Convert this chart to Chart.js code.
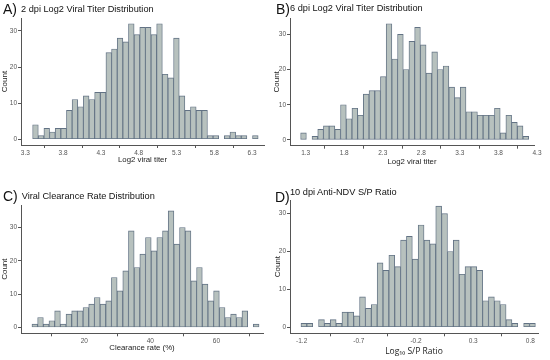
<!DOCTYPE html>
<html>
<head>
<meta charset="utf-8">
<script src="https://cdn.jsdelivr.net/npm/chart.js@4"></script>
<style>
body{margin:0;background:#fff;}
#wrap{position:relative;width:550px;height:360px;overflow:hidden;font-family:"Liberation Sans",Arial,sans-serif;}
canvas{position:absolute;}
.lab{position:absolute;font-size:14px;line-height:1;color:#111;}
.ttl{position:absolute;font-size:9.2px;line-height:1;color:#111;white-space:nowrap;}
</style>
</head>
<body>
<div id="wrap">
  <canvas id="cA" width="275" height="180" style="left:0;top:0"></canvas>
  <canvas id="cB" width="280" height="180" style="left:270px;top:0"></canvas>
  <canvas id="cC" width="275" height="180" style="left:0;top:180px"></canvas>
  <canvas id="cD" width="280" height="180" style="left:270px;top:180px"></canvas>
  <div class="lab" style="left:3px;top:2px">A)</div>
  <div class="ttl" style="left:21px;top:4.5px">2 dpi Log2 Viral Titer Distribution</div>
  <div class="lab" style="left:276px;top:1.5px">B)</div>
  <div class="ttl" style="left:290px;top:4px">6 dpi Log2 Viral Titer Distribution</div>
  <div class="lab" style="left:3px;top:189px">C)</div>
  <div class="ttl" style="left:21.7px;top:191.5px">Viral Clearance Rate Distribution</div>
  <div class="lab" style="left:275px;top:190px">D)</div>
  <div class="ttl" style="left:290px;top:187.5px">10 dpi Anti-NDV S/P Ratio</div>
</div>
<script>
// counts per bin (40 bins per panel)
const countsA = [4,1,3,2,3,3,8,11,9,12,11,13,13,24,25,28,27,32,29,31,31,29,32,18,17,28,12,8,9,8,8,1,1,0,1,2,1,1,0,1];
const countsB = [2,0,1,3,4,4,3,10,6,9,7,13,14,14,18,33,23,30,20,28,32,27,19,25,20,21,15,12,15,8,8,7,7,7,9,2,7,5,4,1];
const countsC = [1,3,1,2,5,1,4,5,5,6,7,9,7,8,15,11,17,29,18,22,27,23,27,29,35,25,30,29,14,18,13,8,11,6,3,4,3,5,0,1];
const countsD = [1,1,0,2,1,2,1,4,4,3,8,5,6,17,15,19,16,23,24,18,27,23,22,32,30,20,23,14,16,16,15,7,8,7,6,2,1,0,1,1];

// first bin edge and bin width
const startA = 3.397, widthA = 0.07457;
const startB = 1.235, widthB = 0.07393;
const startC = 4.18, widthC = 1.718;
const startD = -1.206, widthD = 0.05125;

const ticksA = [3.3, 3.8, 4.3, 4.8, 5.3, 5.8, 6.3];
const ticksB = [1.3, 1.8, 2.3, 2.8, 3.3, 3.8, 4.3];
const ticksC = [20, 40, 60];
const ticksD = [-1.2, -0.7, -0.2, 0.3, 0.8];
const countTicks = [0, 10, 20, 30];

const fill = '#b7c1be';
const edge = '#627284';
const axisCol = '#555';
const tickFont = {family: 'Liberation Sans', size: 6.5};

function bins(start, w, counts) {
  return counts.map((c, i) => ({x: start + w * (i + 0.5), y: c}));
}

function histo(id, p) {
  new Chart(document.getElementById(id), {
    type: 'bar',
    data: {
      datasets: [{
        data: bins(p.start, p.width, p.counts),
        backgroundColor: fill,
        borderColor: edge,
        borderWidth: 0.9,
        borderSkipped: false,
        barPercentage: 1,
        categoryPercentage: 1
      }]
    },
    options: {
      responsive: false,
      animation: false,
      layout: {padding: p.pad},
      plugins: {legend: {display: false}, tooltip: {enabled: false}},
      scales: {
        x: {
          type: 'linear', offset: false,
          min: p.xr[0], max: p.xr[1],
          afterBuildTicks: s => { s.ticks = p.ticks.map(v => ({value: v})); },
          afterFit: s => { s.height = p.xH; },
          border: {display: true, color: axisCol, width: 1},
          grid: {drawOnChartArea: false, drawTicks: true, tickLength: 3, color: axisCol},
          ticks: {autoSkip: false, maxRotation: 0, padding: 1, color: '#555', font: tickFont,
                  callback: v => String(v)},
          title: {display: true, text: p.xTitle, color: '#222',
                  font: p.xFont || {family: 'Liberation Sans', size: 7.8},
                  padding: {top: 0, bottom: p.xtPad}}
        },
        y: {
          min: p.yr[0], max: p.yr[1],
          afterBuildTicks: s => { s.ticks = countTicks.map(v => ({value: v})); },
          afterFit: s => { s.width = p.yW; },
          border: {display: true, color: axisCol, width: 1},
          grid: {drawOnChartArea: false, drawTicks: true, tickLength: 3, color: axisCol},
          ticks: {autoSkip: false, padding: 1, color: '#555', font: tickFont},
          title: {display: true, text: 'Count', color: '#222',
                  font: {family: 'Liberation Sans', size: 8},
                  padding: {top: p.ctPad, bottom: 0}}
        }
      }
    }
  });
}

histo('cA', {counts: countsA, start: startA, width: widthA, ticks: ticksA,
  xr: [3.243, 6.457], yr: [-1.6, 33.6], xTitle: 'Log2 viral titer',
  pad: {left: 0, top: 18, right: 11, bottom: 10}, yW: 21, xH: 25, xtPad: 5.3, ctPad: 0});

histo('cB', {counts: countsB, start: startB, width: widthB, ticks: ticksB,
  xr: [1.097, 4.261], yr: [-1.65, 34.65], xTitle: 'Log2 viral titer',
  pad: {left: 0, top: 18, right: 16, bottom: 9.3}, yW: 20, xH: 25, xtPad: 4, ctPad: 2});

histo('cC', {counts: countsC, start: startC, width: widthC, ticks: ticksC,
  xr: [0.86, 74.1], yr: [-1.75, 36.75], xTitle: 'Clearance rate (%)',
  pad: {left: 0, top: 25, right: 12, bottom: 4.7}, yW: 21, xH: 22, xtPad: 2.3, ctPad: 0});

histo('cD', {counts: countsD, start: startD, width: widthD, ticks: ticksD,
  xr: [-1.302, 0.867], yr: [-1.6, 33.6], xTitle: 'Log\u2081\u2080 S/P Ratio',
  xFont: {family: 'Open Sans', size: 8.5},
  pad: {left: 0, top: 20, right: 12, bottom: 2.7}, yW: 20, xH: 24, xtPad: 0.2, ctPad: 3});
</script>
</body>
</html>
